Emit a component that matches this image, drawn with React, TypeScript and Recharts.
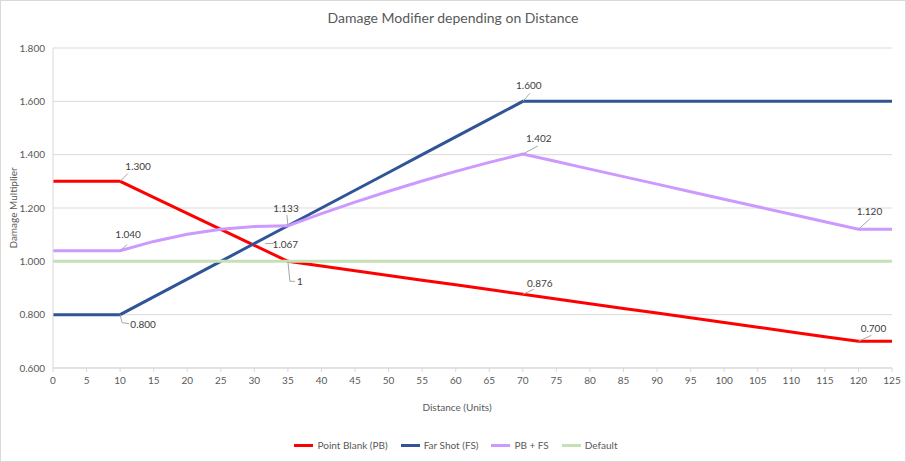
import { LineChart, Line, XAxis, YAxis, CartesianGrid, LabelList } from "recharts";

const distances = [0, 5, 10, 15, 20, 25, 30, 35, 40, 45, 50, 55, 60, 65, 70, 75, 80, 85, 90, 95, 100, 105, 110, 115, 120, 125];

const pointBlank = [1.3, 1.3, 1.3, 1.24, 1.18, 1.12, 1.06, 1.0, 0.9824, 0.9647, 0.9471, 0.9294, 0.9118, 0.8941, 0.8765, 0.8588, 0.8412, 0.8235, 0.8059, 0.7882, 0.7706, 0.7529, 0.7353, 0.7176, 0.7, 0.7];

const farShot = [0.8, 0.8, 0.8, 0.8667, 0.9333, 1.0, 1.0667, 1.1333, 1.2, 1.2667, 1.3333, 1.4, 1.4667, 1.5333, 1.6, 1.6, 1.6, 1.6, 1.6, 1.6, 1.6, 1.6, 1.6, 1.6, 1.6, 1.6];

const combined = [1.04, 1.04, 1.04, 1.0747, 1.1013, 1.12, 1.1307, 1.1333, 1.1788, 1.222, 1.2627, 1.3012, 1.3373, 1.371, 1.4024, 1.3741, 1.3459, 1.3176, 1.2894, 1.2612, 1.2329, 1.2047, 1.1765, 1.1482, 1.12, 1.12];

const baseline = [1, 1, 1, 1, 1, 1, 1, 1, 1, 1, 1, 1, 1, 1, 1, 1, 1, 1, 1, 1, 1, 1, 1, 1, 1, 1];

const yTicks = [0.6, 0.8, 1.0, 1.2, 1.4, 1.6, 1.8];

const series = [
  { key: "pb", name: "Point Blank (PB)", color: "#FF0000" },
  { key: "fs", name: "Far Shot (FS)", color: "#2F5597" },
  { key: "combo", name: "PB + FS", color: "#CC99FF" },
  { key: "def", name: "Default", color: "#C5E0B4" },
];

const data = distances.map((d, i) => ({
  d,
  pb: pointBlank[i],
  fs: farShot[i],
  combo: combined[i],
  def: baseline[i],
}));

// callout labels (index, text, label offset, leader path)
type Callout = { i: number; text: string; lx: number; ly: number; path: number[][] };

const callouts: Record<string, Callout[]> = {
  pb: [
    { i: 2, text: "1.300", lx: 18, ly: -15, path: [[0, 0], [8, -8]] },
    { i: 7, text: "1", lx: 12, ly: 20, path: [[0, 0], [2, 20], [7, 20]] },
    { i: 14, text: "0.876", lx: 17, ly: -11, path: [[0, 0], [11, -5]] },
    { i: 24, text: "0.700", lx: 15, ly: -13, path: [[0, 0], [13, -6]] },
  ],
  fs: [
    { i: 2, text: "0.800", lx: 23, ly: 9, path: [[0, 0], [2, 8], [9, 9]] },
    { i: 6, text: "1.067", lx: 31, ly: 0, path: [[11, 0], [19, 0]] },
    { i: 14, text: "1.600", lx: 6, ly: -16, path: [[0, 0], [7, -8]] },
  ],
  combo: [
    { i: 2, text: "1.040", lx: 8, ly: -17, path: [[0, 0], [7, -6]] },
    { i: 7, text: "1.133", lx: -2, ly: -18, path: [[0, 0], [-1, -11]] },
    { i: 14, text: "1.402", lx: 16, ly: -16, path: [[0, 0], [15, -8]] },
    { i: 24, text: "1.120", lx: 11, ly: -18, path: [[0, 0], [12, -11]] },
  ],
};

const font = "Lato, 'Open Sans', sans-serif";

function makeLabel(key: string) {
  return (props: any) => {
    const { x, y, index } = props;
    const c = (callouts[key] || []).find((k) => k.i === index);
    if (!c || x == null || y == null) return null;
    const pts = c.path.map((p) => `${x + p[0]},${y + p[1]}`).join(" ");
    return (
      <g>
        <polyline points={pts} fill="none" stroke="#A6A6A6" strokeWidth={1} />
        <text
          x={x + c.lx}
          y={y + c.ly}
          textAnchor="middle"
          dominantBaseline="central"
          fontSize={10}
          fontFamily={font}
          fill="#404040"
        >
          {c.text}
        </text>
      </g>
    );
  };
}

export default function App() {
  return (
    <div
      style={{
        position: "absolute",
        left: 0,
        top: 0,
        width: 904,
        height: 460,
        border: "1px solid #D9D9D9",
        background: "#fff",
        fontFamily: font,
      }}
    >
      {/* title */}
      <div
        style={{
          position: "absolute",
          top: 8,
          left: 0,
          width: 904,
          textAlign: "center",
          fontSize: 14,
          color: "#595959",
        }}
      >
        Damage Modifier depending on Distance
      </div>

      <LineChart
        width={904}
        height={460}
        data={data}
        margin={{ top: 47, right: 13, left: 0, bottom: 63 }}
      >
        <CartesianGrid vertical={false} stroke="#D9D9D9" />
        <XAxis
          dataKey="d"
          type="number"
          domain={[0, 125]}
          ticks={distances}
          interval={0}
          height={30}
          stroke="#D9D9D9"
          tickSize={4}
          tickMargin={5}
          tick={{ fontSize: 10, fill: "#595959", fontFamily: font }}
        />
        <YAxis
          domain={[0.6, 1.8]}
          ticks={yTicks}
          width={52}
          stroke="#D9D9D9"
          tickLine={false}
          tickSize={0}
          tickMargin={8}
          tickFormatter={(v: number) => v.toFixed(3)}
          tick={{ fontSize: 10, fill: "#595959", fontFamily: font }}
        />
        {series.map((s) => (
          <Line
            key={s.key}
            dataKey={s.key}
            name={s.name}
            type="linear"
            stroke={s.color}
            strokeWidth={3}
            dot={false}
            activeDot={false}
            isAnimationActive={false}
          >
            {callouts[s.key] && <LabelList dataKey={s.key} content={makeLabel(s.key)} />}
          </Line>
        ))}
      </LineChart>

      {/* axis titles */}
      <div
        style={{
          position: "absolute",
          left: 12,
          top: 207,
          transform: "translate(-50%, -50%) rotate(-90deg)",
          fontSize: 10,
          color: "#595959",
          whiteSpace: "nowrap",
        }}
      >
        Damage Multiplier
      </div>
      <div
        style={{
          position: "absolute",
          top: 400,
          left: 0,
          width: 912,
          textAlign: "center",
          fontSize: 10,
          color: "#595959",
        }}
      >
        Distance (Units)
      </div>

      {/* legend */}
      <div
        style={{
          position: "absolute",
          top: 438,
          left: 0,
          width: 910,
          display: "flex",
          justifyContent: "center",
          gap: 13,
          fontSize: 10,
          color: "#595959",
        }}
      >
        {series.map((s) => (
          <div key={s.key} style={{ display: "flex", alignItems: "center", gap: 4 }}>
            <span style={{ display: "inline-block", width: 19, height: 3, background: s.color }} />
            <span>{s.name}</span>
          </div>
        ))}
      </div>
    </div>
  );
}
